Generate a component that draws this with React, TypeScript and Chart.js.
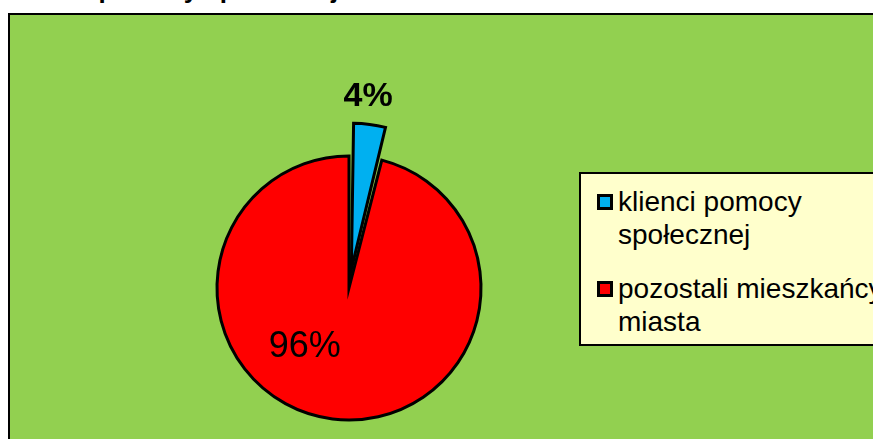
import React, { useEffect, useRef } from "react";
import { Chart, registerables } from "chart.js";

Chart.register(...registerables);

// ---- data ----
const titleText = "Klienci pomocy społecznej";
const categories = ["klienci pomocy społecznej", "pozostali mieszkańcy miasta"];
const values = [4, 96];
const valueLabels = ["4%", "96%"];
const sliceColors = ["#00B0F0", "#FF0000"];

// ---- label styling (polar placement relative to slice) ----
const labelRadiusFactor = [1.455, 0.56];
const labelAngleShiftDeg = [-1.5, 29.5];
const labelFonts = [
  "bold 34px 'Liberation Sans', Arial, sans-serif",
  "36px 'Liberation Sans', Arial, sans-serif",
];

const sliceLabelPlugin = {
  id: "sliceLabels",
  afterDatasetsDraw(chart: any) {
    const meta = chart.getDatasetMeta(0);
    const ctx = chart.ctx;
    meta.data.forEach((arc: any, i: number) => {
      const p = arc.getProps(["x", "y", "startAngle", "endAngle", "outerRadius"], true);
      const mid = (p.startAngle + p.endAngle) / 2 + (labelAngleShiftDeg[i] * Math.PI) / 180;
      const r = p.outerRadius * labelRadiusFactor[i];
      ctx.save();
      ctx.font = labelFonts[i];
      ctx.fillStyle = "#000";
      ctx.textAlign = "center";
      ctx.textBaseline = "middle";
      ctx.fillText(valueLabels[i], p.x + Math.cos(mid) * r, p.y + Math.sin(mid) * r);
      ctx.restore();
    });
  },
};

export default function App() {
  const canvasRef = useRef<HTMLCanvasElement | null>(null);

  useEffect(() => {
    if (!canvasRef.current) return;
    const chart = new Chart(canvasRef.current, {
      type: "pie",
      data: {
        labels: categories,
        datasets: [
          {
            data: values,
            backgroundColor: sliceColors,
            borderColor: "#000000",
            borderWidth: 3,
            borderJoinStyle: "miter",
            offset: [75, 0],
          } as any,
        ],
      },
      options: {
        responsive: true,
        maintainAspectRatio: false,
        animation: false,
        radius: 132,
        layout: { padding: { left: 189, right: 374, top: 123, bottom: 1 } },
        plugins: {
          legend: { display: false },
          tooltip: { enabled: false },
        },
      } as any,
      plugins: [sliceLabelPlugin],
    });
    return () => chart.destroy();
  }, []);

  const font = "'Liberation Sans', Arial, sans-serif";

  return (
    <div
      style={{
        position: "fixed",
        left: 0,
        top: 0,
        width: 873,
        height: 439,
        overflow: "hidden",
        background: "#ffffff",
        fontFamily: font,
      }}
    >
      <div
        style={{
          position: "absolute",
          left: 6,
          top: -24,
          fontSize: 26,
          lineHeight: "26px",
          fontWeight: "bold",
          whiteSpace: "nowrap",
          color: "#000",
        }}
      >
        {titleText}
      </div>
      <div
        style={{
          position: "absolute",
          left: 8,
          top: 13,
          width: 900,
          height: 460,
          border: "2px solid #000",
          boxSizing: "border-box",
          background: "#92D050",
        }}
      >
        <div style={{ position: "absolute", left: 0, top: 0, width: 863, height: 424 }}>
          <canvas ref={canvasRef} style={{ display: "block" }} />
        </div>
        <div
          style={{
            position: "absolute",
            left: 569,
            top: 157,
            width: 360,
            border: "2px solid #000",
            boxSizing: "border-box",
            background: "#FFFFCC",
            padding: "11px 0 6px 16px",
          }}
        >
          {categories.map((c, i) => (
            <div
              key={c}
              style={{
                display: "flex",
                alignItems: "flex-start",
                marginTop: i === 0 ? 0 : 21,
              }}
            >
              <span
                style={{
                  display: "inline-block",
                  width: 10,
                  height: 10,
                  border: "3px solid #000",
                  background: sliceColors[i],
                  marginTop: 9,
                  marginRight: 5,
                  flex: "none",
                }}
              />
              <span
                style={{
                  width: 292,
                  fontSize: 28,
                  lineHeight: "33px",
                  color: "#000",
                }}
              >
                {c}
              </span>
            </div>
          ))}
        </div>
      </div>
    </div>
  );
}
